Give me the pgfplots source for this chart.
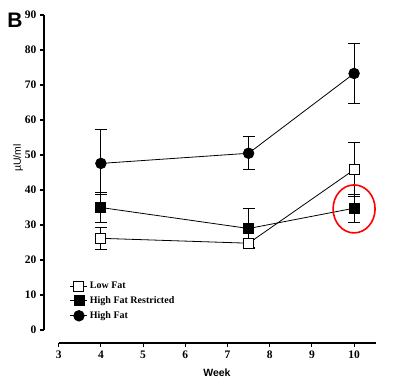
\documentclass[border=0pt]{standalone}
\usepackage{fontspec}
\setmainfont{Liberation Serif}
\newfontfamily\arial{Liberation Sans}
\usepackage{pgfplots}
\pgfplotsset{compat=1.18}
\begin{document}
\begin{tikzpicture}
\begin{axis}[
  x=42.2pt, y=3.5pt,
  xmin=2.652, xmax=10.52, ymin=-3.71, ymax=90,
  axis lines*=left,
  axis line style={draw=none},
  clip=false,
  xtick={3,4,5,6,7,8,9,10},
  ytick={0,10,20,30,40,50,60,70,80,90},
  tick align=outside,
  major tick length=4pt,
  tick style={black, line width=1.1pt},
  /pgf/number format/assume math mode=true,
  tick label style={font=\bfseries\fontsize{11.5}{13}\selectfont},
  legend style={draw=none, fill=none, at={(axis cs:3.24,14.6)}, anchor=north west,
    font=\bfseries\fontsize{10}{12}\selectfont, row sep=2.5pt, inner sep=1pt},
  legend cell align=left,
  error bars/error bar style={line width=1pt, black},
  error bars/error mark options={rotate=90, mark size=6pt, line width=1pt},
]
\path (axis cs:1.609,94.29) rectangle (axis cs:11.088,-16.0);
\draw[line width=1.2pt] (axis cs:2.652,0) -- (axis cs:2.652,90);
\draw[line width=1.2pt] (axis cs:3,-3.71) -- (axis cs:10.52,-3.71);

\addplot[black, line width=0.8pt, mark=square*, mark size=5pt, mark options={fill=white, line width=1pt},
  error bars/.cd, y dir=both, y explicit]
  coordinates {(4,26.2) +- (0,3.1) (7.5,24.8) +- (0,1.2) (10,45.8) +- (0,7.7)};
\addlegendentry{Low Fat}
\addplot[black, line width=0.8pt, mark=square*, mark size=5pt, mark options={fill=black},
  error bars/.cd, y dir=both, y explicit]
  coordinates {(4,35.0) +- (0,4.3) (7.5,29.0) +- (0,5.6) (10,34.8) +- (0,4.0)};
\addlegendentry{High Fat Restricted}
\addplot[black, line width=0.8pt, mark=*, mark size=5.3pt, mark options={fill=black},
  error bars/.cd, y dir=both, y explicit]
  coordinates {(4,47.6) += (0,9.6) -= (0,9.0) (7.5,50.5) +- (0,4.7) (10,73.3) +- (0,8.5)};
\addlegendentry{High Fat}

\draw[red, line width=1.6pt] (axis cs:10,34.6) ellipse [x radius=21pt, y radius=24pt];
\node[font=\arial\bfseries\fontsize{21}{22}\selectfont] at (axis cs:1.965,88.6) {B};
\node[font=\arial\fontsize{10.5}{12}\selectfont, rotate=90] at (axis cs:2.04,49.1) {µU/ml};
\node[font=\arial\bfseries\fontsize{10.5}{12}\selectfont] at (axis cs:6.75,-12.3) {Week};
\end{axis}
\end{tikzpicture}
\end{document}
